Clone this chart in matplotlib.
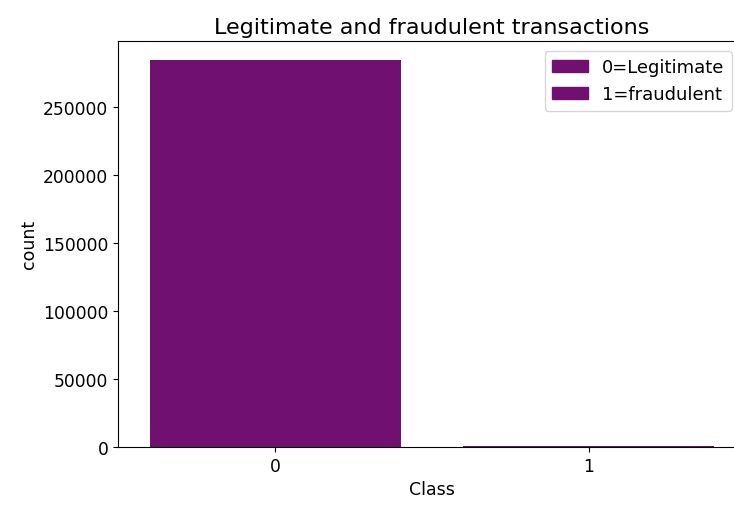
import matplotlib
matplotlib.use("Agg")
import matplotlib.pyplot as plt
import seaborn as sns
from matplotlib.patches import Patch

# Class counts (credit card fraud dataset)
classes = ["0", "1"]
counts = [284315, 492]
legend_labels = ["0=Legitimate", "1=fraudulent"]

bar_color = sns.desaturate("purple", 0.75)

fig, ax = plt.subplots(figsize=(7.34, 5.06), dpi=100)
# right spine sits just past the image edge, like the cropped original
plt.subplots_adjust(left=0.161, right=1.016, top=0.917, bottom=0.115)

ax.bar(range(len(classes)), counts, width=0.8, color=bar_color)
ax.set_xticks(range(len(classes)))
ax.set_xticklabels(classes)
ax.tick_params(axis="both", labelsize=12.3)
ax.set_xlim(-0.5, len(classes) - 0.5)
ax.set_ylim(0, max(counts) * 1.05)

ax.set_xlabel("Class", fontsize=12.5)
ax.set_ylabel("count", fontsize=12.5)
ax.set_title("Legitimate and fraudulent transactions", fontsize=16)

handles = [Patch(color=bar_color) for _ in legend_labels]
ax.legend(handles, legend_labels, loc="upper right", fontsize=13,
          bbox_to_anchor=(0.978, 0.975), borderaxespad=0)

fig.savefig("out.png")
